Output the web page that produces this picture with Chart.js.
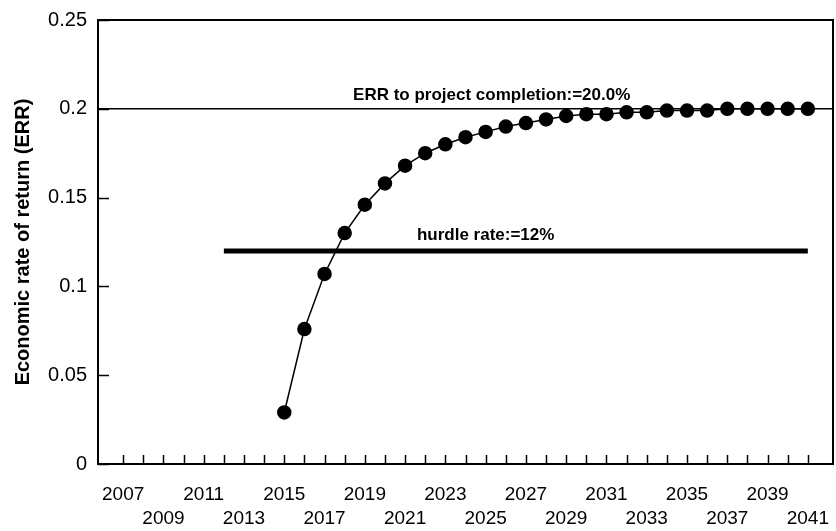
<!DOCTYPE html>
<html>
<head>
<meta charset="utf-8">
<script src="https://cdn.jsdelivr.net/npm/chart.js@4/dist/chart.umd.min.js"></script>
<style>
  html, body { margin: 0; padding: 0; background: #fff; }
  #wrap { width: 836px; height: 531px; position: relative; }
</style>
</head>
<body>
<div id="wrap"><canvas id="errChart"></canvas></div>
<script>
// tick years on the x axis (labels on odd years, alternating rows)
const tickYears = [2007, 2008, 2009, 2010, 2011, 2012, 2013, 2014, 2015, 2016, 2017, 2018,
  2019, 2020, 2021, 2022, 2023, 2024, 2025, 2026, 2027, 2028, 2029, 2030, 2031, 2032,
  2033, 2034, 2035, 2036, 2037, 2038, 2039, 2040, 2041];
const labelYears = [2007, 2009, 2011, 2013, 2015, 2017, 2019, 2021, 2023, 2025, 2027,
  2029, 2031, 2033, 2035, 2037, 2039, 2041];
const yTicks = [0, 0.05, 0.1, 0.15, 0.2, 0.25];

// ERR curve
const errYears  = [2015, 2016, 2017, 2018, 2019, 2020, 2021, 2022, 2023, 2024, 2025, 2026, 2027,
  2028, 2029, 2030, 2031, 2032, 2033, 2034, 2035, 2036, 2037, 2038, 2039, 2040, 2041];
const errValues = [0.029, 0.076, 0.107, 0.130, 0.146, 0.158, 0.168, 0.175, 0.180, 0.184, 0.187,
  0.190, 0.192, 0.194, 0.196, 0.197, 0.197, 0.198, 0.198, 0.199, 0.199, 0.199, 0.200, 0.200,
  0.200, 0.200, 0.200];

// reference lines
const completionYears = [2005.75, 2042.25];
const completionValues = [0.2, 0.2];
const hurdleYears = [2012, 2041];
const hurdleValues = [0.12, 0.12];

const completionLabel = 'ERR to project completion:=20.0%';
const hurdleLabel = 'hurdle rate:=12%';

const FONT = "'Liberation Sans', Arial, sans-serif";

const toXY = (xs, ys) => xs.map((x, i) => ({ x: x, y: ys[i] }));

const framePlugin = {
  id: 'frame',
  afterDatasetsDraw(chart) {
    const { ctx, chartArea: a, scales: { x, y } } = chart;
    ctx.save();
    ctx.strokeStyle = '#000';

    // plot box
    ctx.lineWidth = 2;
    ctx.strokeRect(a.left, a.top, a.right - a.left, a.bottom - a.top);

    // inward ticks
    ctx.lineWidth = 1.5;
    ctx.beginPath();
    tickYears.forEach(v => {
      const px = Math.round(x.getPixelForValue(v)) + 0.5;
      ctx.moveTo(px, a.bottom);
      ctx.lineTo(px, a.bottom - 9);
    });
    yTicks.forEach(v => {
      const py = Math.round(y.getPixelForValue(v)) + 0.5;
      ctx.moveTo(a.left, py);
      ctx.lineTo(a.left + 11, py);
    });
    ctx.stroke();

    // line labels
    ctx.fillStyle = '#000';
    ctx.textAlign = 'center';
    ctx.textBaseline = 'alphabetic';
    ctx.font = 'bold 17px ' + FONT;
    ctx.fillText(completionLabel, x.getPixelForValue(2025.3), y.getPixelForValue(0.2) - 9);
    ctx.fillText(hurdleLabel, x.getPixelForValue(2025.0), y.getPixelForValue(0.12) - 11);
    ctx.restore();
  }
};

new Chart(document.getElementById('errChart'), {
  type: 'line',
  data: {
    datasets: [
      {
        data: toXY(errYears, errValues),
        borderColor: '#000', borderWidth: 1.5,
        backgroundColor: '#000', pointBackgroundColor: '#000', pointBorderColor: '#000',
        pointRadius: 6.5, pointHoverRadius: 6.5, tension: 0, order: 0
      },
      {
        data: toXY(completionYears, completionValues),
        borderColor: '#000', borderWidth: 1.5, pointRadius: 0, order: 2
      },
      {
        data: toXY(hurdleYears, hurdleValues),
        borderColor: '#000', borderWidth: 5, pointRadius: 0, borderCapStyle: 'butt', order: 1
      }
    ]
  },
  options: {
    responsive: true,
    maintainAspectRatio: false,
    animation: false,
    layout: { autoPadding: false, padding: { left: 11, top: 20, right: 3, bottom: 0 } },
    plugins: { legend: { display: false }, tooltip: { enabled: false } },
    scales: {
      x: {
        type: 'linear',
        min: 2005.75,
        max: 2042.25,
        afterBuildTicks: s => { s.ticks = tickYears.map(v => ({ value: v })); },
        afterFit: s => { s.height = 67; s.paddingLeft = 0; s.paddingRight = 0; },
        grid: { display: false, drawTicks: false },
        border: { display: false },
        ticks: {
          autoSkip: false,
          maxRotation: 0,
          padding: 19.5,
          color: '#000',
          font: { family: FONT, size: 19, lineHeight: 1.237 },
          callback: v => {
            const k = labelYears.indexOf(v);
            if (k < 0) return '';
            return k % 2 === 0 ? [String(v)] : ['', String(v)];
          }
        }
      },
      y: {
        min: 0,
        max: 0.25,
        afterBuildTicks: s => { s.ticks = yTicks.map(v => ({ value: v })); },
        afterFit: s => { s.width = 87; s.paddingTop = 0; s.paddingBottom = 0; },
        grid: { display: false, drawTicks: false },
        border: { display: false },
        ticks: {
          padding: 11,
          color: '#000',
          font: { family: FONT, size: 20 },
          callback: v => String(v)
        },
        title: {
          display: true,
          text: 'Economic rate of return (ERR)',
          color: '#000',
          padding: 0,
          font: { family: FONT, size: 20, weight: 'bold' }
        }
      }
    }
  },
  plugins: [framePlugin]
});
</script>
</body>
</html>
